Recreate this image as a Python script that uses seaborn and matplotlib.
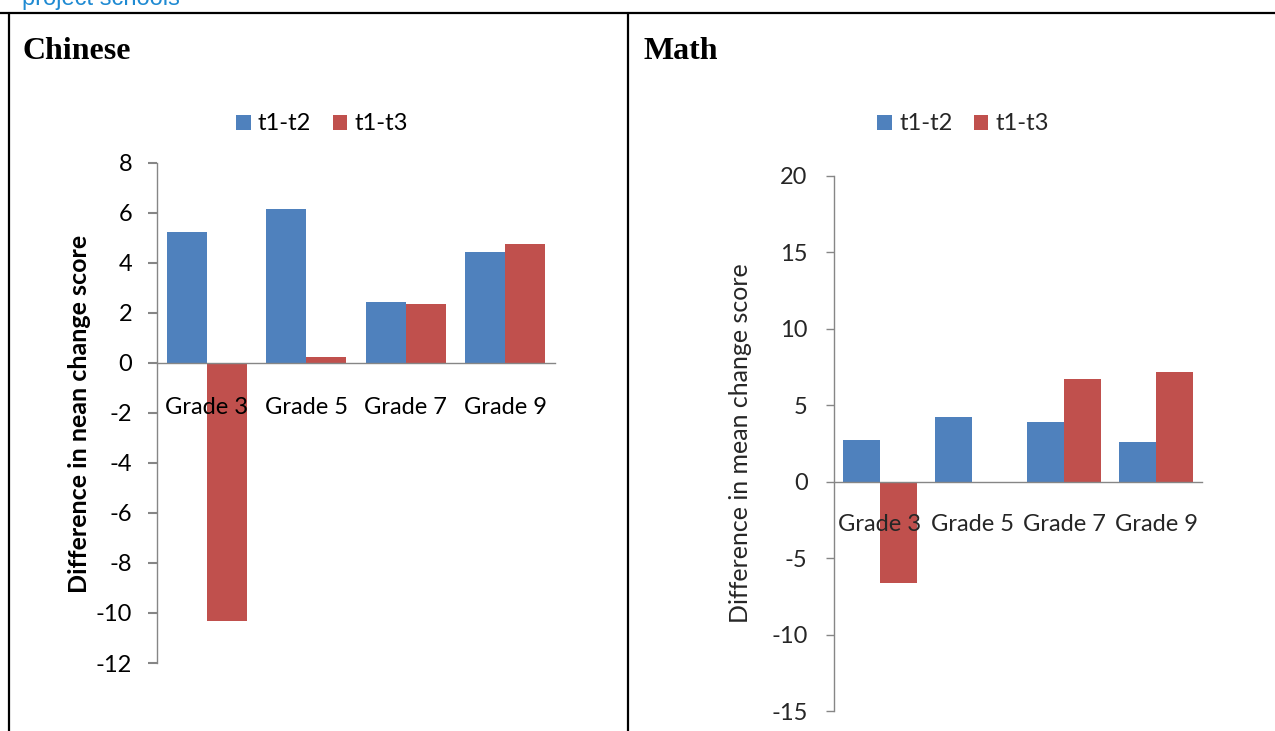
import matplotlib
matplotlib.use("Agg")
import matplotlib.pyplot as plt
from matplotlib.lines import Line2D
import pandas as pd
import seaborn as sns

# Data: difference in mean change score by grade
grades = ["Grade 3", "Grade 5", "Grade 7", "Grade 9"]
series_names = ["t1-t2", "t1-t3"]
chinese_t1_t2 = [5.25, 6.15, 2.45, 4.45]
chinese_t1_t3 = [-10.3, 0.25, 2.37, 4.77]
math_t1_t2 = [2.73, 4.21, 3.88, 2.62]
math_t1_t3 = [-6.6, 0.0, 6.72, 7.16]

BLUE = "#4F81BD"
RED = "#C0504D"
AXIS_GREY = "#868686"

W, H = 1275, 731
sns.set_theme(style="white")
plt.rcParams["font.family"] = ["Lato", "DejaVu Sans"]

fig = plt.figure(figsize=(W / 100, H / 100), dpi=100)
fig.patch.set_facecolor("white")


def px_axes(x0, y_top, x1, y_bot):
    return fig.add_axes([x0 / W, 1 - y_bot / H, (x1 - x0) / W, (y_bot - y_top) / H])


def long_frame(a, b):
    return pd.DataFrame({
        "grade": grades * 2,
        "series": [series_names[0]] * len(grades) + [series_names[1]] * len(grades),
        "value": list(a) + list(b),
    })


def draw_panel(ax, df, ylim, step, ylabel, bold, text_color, label_pos, legend_center,
               tick_len, tick_w, ypad, xpad):
    sns.barplot(data=df, x="grade", y="value", hue="series", order=grades,
                hue_order=series_names, palette=[BLUE, RED], saturation=1,
                linewidth=0, width=0.8, ax=ax)
    ax.set_xlim(-0.5, len(grades) - 0.5)
    ax.set_ylim(*ylim)
    ticks = list(range(ylim[0], ylim[1] + 1, step))
    ax.set_yticks(ticks)
    ax.set_yticklabels([str(t) for t in ticks])
    for s in ("top", "right"):
        ax.spines[s].set_visible(False)
    for s in ("left", "bottom"):
        ax.spines[s].set_color(AXIS_GREY)
        ax.spines[s].set_linewidth(1.0)
        ax.spines[s].set_zorder(3)
    ax.spines["bottom"].set_position(("data", 0))
    # category labels sit on top of the bars that cross them
    ax.xaxis.set_zorder(4)
    ax.yaxis.set_zorder(4)
    ax.tick_params(axis="y", direction="out", length=tick_len, width=tick_w,
                   color=AXIS_GREY, pad=ypad, labelsize=17, labelcolor=text_color, left=True)
    ax.tick_params(axis="x", length=0, pad=xpad, labelsize=17, labelcolor=text_color)
    ax.set_xlabel("")
    ax.set_ylabel(ylabel, fontsize=18, fontweight="bold" if bold else "normal",
                  color=text_color)
    ax.yaxis.label.set_va("center")
    ax.yaxis.set_label_coords(*label_pos)
    ax.grid(False)
    ax.set_facecolor("white")
    handles, labels = ax.get_legend_handles_labels()
    ax.legend(handles, labels, loc="center",
              bbox_to_anchor=(legend_center[0] / W, 1 - legend_center[1] / H),
              bbox_transform=fig.transFigure, ncol=2, frameon=False,
              handlelength=0.62, handleheight=0.62, handletextpad=0.3,
              columnspacing=0.9, fontsize=17, labelcolor=text_color)


# Left panel: Chinese
ax_c = px_axes(157, 163, 555, 663)
draw_panel(ax_c, long_frame(chinese_t1_t2, chinese_t1_t3), (-12, 8), 2,
           "Difference in nean change score", True, "black",
           ((80 - 157) / 398, (663 - 414) / 500), (322, 124), 6.5, 1.5, 11.5, 24.5)

# Right panel: Math
ax_m = px_axes(834, 176, 1202, 711)
draw_panel(ax_m, long_frame(math_t1_t2, math_t1_t3), (-15, 20), 5,
           "Difference in mean change score", False, "#262626",
           ((740 - 834) / 368, (711 - 443) / 535), (963, 124), 6.0, 1.0, 13, 23.5)

# Document frame: top rule, outer left edge and centre divider
for xs, ys in [((0, W), (13, 13)), ((9, 9), (13, H)), ((627.5, 627.5), (13, H))]:
    fig.add_artist(Line2D([x / W for x in xs], [1 - y / H for y in ys],
                          transform=fig.transFigure, color="black", linewidth=1.6))

# Panel headings and the caption line running off the top edge
fig.text(23 / W, 1 - 59 / H, "Chinese", fontsize=23, fontweight="bold",
         family="Liberation Serif", color="black", va="baseline", ha="left")
fig.text(643 / W, 1 - 59 / H, "Math", fontsize=23, fontweight="bold",
         family="Liberation Serif", color="black", va="baseline", ha="left")
fig.text(22 / W, 1 - 5 / H, "project schools", fontsize=17, family="Liberation Sans",
         color="#1F8AD2", va="baseline", ha="left")

fig.savefig("out.png", dpi=100, facecolor="white")
